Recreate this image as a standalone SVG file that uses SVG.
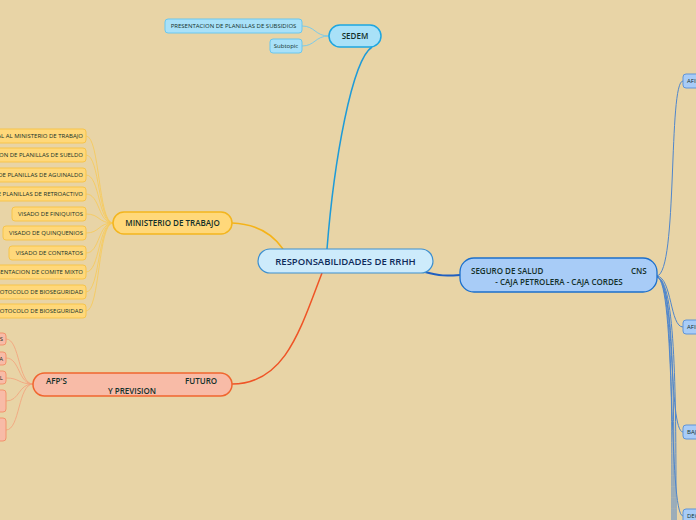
<svg xmlns="http://www.w3.org/2000/svg" width="696" height="520" viewBox="0 0 696 520">
<style>
text{font-family:"Open Sans","Noto Sans","DejaVu Sans",sans-serif;fill:#13302a}
.sub{font-size:6px}
.topic{font-size:8px;font-weight:600}
.c{fill:none}
.sedemSub{fill:#a9e1f8;stroke:#6ac7ee;stroke-width:1}
.minSub{fill:#ffd87a;stroke:#f7c44a;stroke-width:1}
.afpSub{fill:#f8bba7;stroke:#f3936c;stroke-width:1}
.segSub{fill:#a8ccf7;stroke:#5e94d9;stroke-width:1}
</style>
<rect width="696" height="520" fill="#e8d4a6"/>
<g id="connectors">
  <path class="c" d="M327,249 C334,160 352,60 372,47" stroke="#1e9bd8" stroke-width="1.5"/>
  <path class="c" d="M232,223 C258,224 274,236 283,249" stroke="#f5b318" stroke-width="1.5"/>
  <path class="c" d="M322,273 C300,330 285,384 232,384" stroke="#ef5426" stroke-width="1.5"/>
  <path class="c" d="M425,272 C440,276 446,276 460,275" stroke="#1f5fc0" stroke-width="2"/>
  <g stroke="#7ccbe9" stroke-width="1">
    <path class="c" d="M329,36 C315,36 315,26 302,26"/>
    <path class="c" d="M329,36 C315,36 315,46 302,46"/>
  </g>
  <g stroke="#f7c956" stroke-width="0.8">
    <path class="c" d="M113,223 C98,223 100,136 86,136"/>
    <path class="c" d="M113,223 C98,223 100,155 86,155"/>
    <path class="c" d="M113,223 C98,223 100,175 86,175"/>
    <path class="c" d="M113,223 C98,223 100,194 86,194"/>
    <path class="c" d="M113,223 C98,223 100,214 86,214"/>
    <path class="c" d="M113,223 C98,223 100,233 86,233"/>
    <path class="c" d="M113,223 C98,223 100,253 86,253"/>
    <path class="c" d="M113,223 C98,223 100,272 86,272"/>
    <path class="c" d="M113,223 C98,223 100,292 86,292"/>
    <path class="c" d="M113,223 C98,223 100,311 86,311"/>
  </g>
  <g stroke="#f4a07a" stroke-width="0.8">
    <path class="c" d="M33,384 C18,384 20,339 6,339"/>
    <path class="c" d="M33,384 C18,384 20,358 6,358"/>
    <path class="c" d="M33,384 C18,384 20,378 6,378"/>
    <path class="c" d="M33,384 C18,384 20,401 6,401"/>
    <path class="c" d="M33,384 C18,384 20,430 6,430"/>
  </g>
  <g stroke="#4f86cc" stroke-width="1">
    <path class="c" d="M657,276 C678,272 668,81 683,81"/>
    <path class="c" d="M657,276 C672,278 670,327 683,327"/>
    <path class="c" d="M657,277 C676,280 668,432 683,432"/>
    <path class="c" d="M657,277 C676,280 668,516 683,516"/>
    <path class="c" d="M657,277 C672,280 672,400 672,520"/>
    <path class="c" d="M657,277 C674,280 674,400 674,520"/>
    <path class="c" d="M657,277 C676,280 676,400 676,520"/>
  </g>
</g>
<g id="central">
  <rect x="258" y="249" width="175" height="24" rx="12" fill="#cdebfb" stroke="#3c8fd0" stroke-width="1.2"/>
  <text x="345.5" y="264.5" text-anchor="middle" style="font-size:9.5px;font-weight:600;fill:#0e2a5a">RESPONSABILIDADES DE RRHH</text>
</g>
<g id="sedem">
  <rect x="329" y="25" width="52" height="22" rx="11" fill="#a9e1f8" stroke="#1ea6e0" stroke-width="1.5"/>
  <text class="topic" x="355" y="39" text-anchor="middle">SEDEM</text>
</g>
<g id="sedem-1">
  <rect class="sedemSub" x="165" y="19" width="137" height="14" rx="3"/>
  <text class="sub" x="233.5" y="28.2" text-anchor="middle">PRESENTACION DE PLANILLAS DE SUBSIDIOS</text>
</g>
<g id="sedem-2">
  <rect class="sedemSub" x="270" y="39" width="32" height="14" rx="3"/>
  <text class="sub" x="286" y="48.2" text-anchor="middle">Subtopic</text>
</g>
<g id="ministerio">
  <rect x="113" y="212" width="119" height="22" rx="11" fill="#ffd87a" stroke="#f3b51e" stroke-width="1.5"/>
  <text class="topic" x="172.5" y="226" text-anchor="middle">MINISTERIO DE TRABAJO</text>
</g>
<g id="min-1"><rect class="minSub" x="-120" y="129" width="206" height="14" rx="3"/><text class="sub" x="83" y="138.2" text-anchor="end">PRESENTACION DE PLANILLA TRIMESTRAL AL MINISTERIO DE TRABAJO</text></g>
<g id="min-2"><rect class="minSub" x="-60" y="148" width="146" height="14" rx="3"/><text class="sub" x="83" y="157.2" text-anchor="end">PRESENTACION DE PLANILLAS DE  SUELDO</text></g>
<g id="min-3"><rect class="minSub" x="-60" y="168" width="146" height="14" rx="3"/><text class="sub" x="83" y="177.2" text-anchor="end">VISADO DE PLANILLAS DE AGUINALDO</text></g>
<g id="min-4"><rect class="minSub" x="-60" y="187" width="146" height="14" rx="3"/><text class="sub" x="83" y="196.2" text-anchor="end">VISADO DE PLANILLAS  DE  RETROACTIVO</text></g>
<g id="min-5"><rect class="minSub" x="12" y="207" width="74" height="14" rx="3"/><text class="sub" x="83" y="216.2" text-anchor="end">VISADO DE FINIQUITOS</text></g>
<g id="min-6"><rect class="minSub" x="3" y="226" width="83" height="14" rx="3"/><text class="sub" x="83" y="235.2" text-anchor="end">VISADO DE QUINQUENIOS</text></g>
<g id="min-7"><rect class="minSub" x="9" y="246" width="77" height="14" rx="3"/><text class="sub" x="83" y="255.2" text-anchor="end">VISADO DE CONTRATOS</text></g>
<g id="min-8"><rect class="minSub" x="-60" y="265" width="146" height="14" rx="3"/><text class="sub" x="83" y="274.2" text-anchor="end">PRESENTACION DE COMITE MIXTO</text></g>
<g id="min-9"><rect class="minSub" x="-60" y="285" width="146" height="14" rx="3"/><text class="sub" x="83" y="294.2" text-anchor="end">PROTOCOLO DE BIOSEGURIDAD</text></g>
<g id="min-10"><rect class="minSub" x="-60" y="304" width="146" height="14" rx="3"/><text class="sub" x="83" y="313.2" text-anchor="end">PROTOCOLO DE BIOSEGURIDAD</text></g>
<g id="afp">
  <rect x="33" y="373" width="199" height="23" rx="11.5" fill="#f8bba7" stroke="#f0662f" stroke-width="1.5"/>
  <text class="topic" x="46" y="383.5">AFP'S</text>
  <text class="topic" x="185" y="383.5">FUTURO</text>
  <text class="topic" x="132" y="394" text-anchor="middle">Y PREVISION</text>
</g>
<g id="afp-1"><rect class="afpSub" x="-60" y="333" width="66" height="12" rx="3"/><text class="sub" x="3" y="341.2" text-anchor="end">APORTES</text></g>
<g id="afp-2"><rect class="afpSub" x="-60" y="352" width="66" height="13" rx="3"/><text class="sub" x="3" y="360.7" text-anchor="end">PLANILLA</text></g>
<g id="afp-3"><rect class="afpSub" x="-60" y="371" width="66" height="13" rx="3"/><text class="sub" x="3" y="379.7" text-anchor="end">NACIONAL</text></g>
<g id="afp-4"><rect class="afpSub" x="-60" y="390" width="66" height="22" rx="3"/></g>
<g id="afp-5"><rect class="afpSub" x="-60" y="418" width="66" height="23" rx="3"/></g>
<g id="seguro">
  <rect x="460" y="258" width="197" height="34" rx="14" fill="#a8ccf7" stroke="#1b6fcc" stroke-width="1.3"/>
  <text class="topic" x="471" y="274">SEGURO DE SALUD</text>
  <text class="topic" x="631" y="274">CNS</text>
  <text class="topic" x="559" y="285" text-anchor="middle">- CAJA PETROLERA - CAJA CORDES</text>
</g>
<g id="seg-1"><rect class="segSub" x="683" y="74" width="40" height="14" rx="3"/><text class="sub" x="687" y="83.2">AFILIACION</text></g>
<g id="seg-2"><rect class="segSub" x="683" y="320" width="40" height="14" rx="3"/><text class="sub" x="687" y="329.2">AFILIACION</text></g>
<g id="seg-3"><rect class="segSub" x="683" y="425" width="40" height="14" rx="3"/><text class="sub" x="687" y="434.2">BAJAS</text></g>
<g id="seg-4"><rect class="segSub" x="683" y="509" width="40" height="14" rx="3"/><text class="sub" x="687" y="518.2">DECLARACION</text></g>
</svg>
